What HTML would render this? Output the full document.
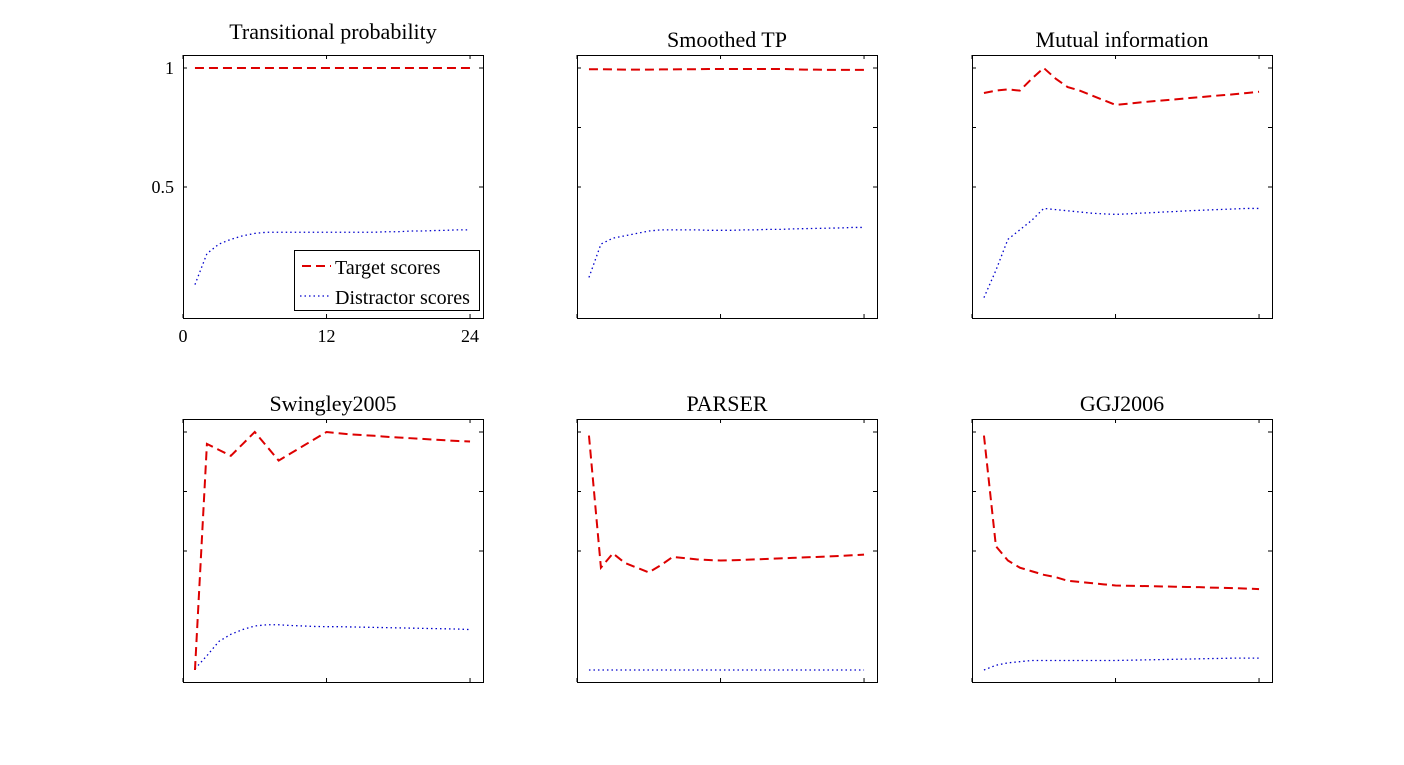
<!DOCTYPE html>
<html><head><meta charset="utf-8"><style>
html,body{margin:0;padding:0;background:#fff;}
svg{display:block;font-family:"Liberation Serif",serif;}
</style></head><body>
<svg id="chart" width="1404" height="765" viewBox="0 0 1404 765"></svg>
<script>
const xs = Array.from({length:24},(_, i)=>i+1);
const titles = ["Transitional probability","Smoothed TP","Mutual information","Swingley2005","PARSER","GGJ2006"];
const tpTarget = [1,1,1,1,1,1,1,1,1,1,1,1,1,1,1,1,1,1,1,1,1,1,1,1];
const tpDistr = [0.09,0.22,0.26,0.28,0.295,0.305,0.31,0.31,0.31,0.31,0.31,0.31,0.31,0.31,0.31,0.31,0.312,0.312,0.315,0.315,0.317,0.318,0.32,0.32];
const stpTarget = [0.995,0.995,0.994,0.993,0.993,0.993,0.994,0.994,0.995,0.995,0.996,0.996,0.996,0.996,0.996,0.996,0.996,0.995,0.993,0.993,0.992,0.992,0.992,0.992];
const stpDistr = [0.12,0.26,0.285,0.295,0.305,0.315,0.32,0.32,0.32,0.32,0.318,0.318,0.318,0.32,0.32,0.322,0.322,0.324,0.325,0.326,0.327,0.328,0.33,0.33];
const miTarget = [0.895,0.905,0.91,0.905,0.955,1.0,0.955,0.92,0.905,0.885,0.865,0.845,0.85,0.855,0.86,0.864,0.868,0.873,0.877,0.882,0.886,0.89,0.895,0.9];
const miDistr = [0.035,0.15,0.28,0.32,0.36,0.41,0.405,0.4,0.395,0.39,0.387,0.385,0.387,0.39,0.392,0.395,0.397,0.4,0.402,0.404,0.406,0.408,0.41,0.41];
const swTarget = [0.0,0.95,0.925,0.9,0.95,1.0,0.94,0.88,0.91,0.94,0.97,1.0,0.995,0.99,0.987,0.984,0.98,0.977,0.974,0.971,0.968,0.965,0.962,0.96];
const swDistr = [0.005,0.06,0.12,0.15,0.17,0.185,0.19,0.19,0.187,0.185,0.183,0.182,0.182,0.181,0.18,0.179,0.178,0.177,0.176,0.175,0.174,0.173,0.172,0.17];
const paTarget = [0.985,0.43,0.49,0.45,0.43,0.41,0.44,0.475,0.47,0.465,0.462,0.46,0.461,0.463,0.465,0.467,0.469,0.471,0.473,0.475,0.477,0.479,0.482,0.485];
const paDistr = [0,0,0,0,0,0,0,0,0,0,0,0,0,0,0,0,0,0,0,0,0,0,0,0];
const ggTarget = [0.985,0.52,0.46,0.43,0.415,0.4,0.39,0.375,0.37,0.365,0.36,0.355,0.354,0.353,0.352,0.351,0.35,0.349,0.348,0.346,0.345,0.344,0.342,0.34];
const ggDistr = [0.0,0.02,0.03,0.035,0.04,0.04,0.04,0.04,0.04,0.04,0.04,0.04,0.041,0.042,0.043,0.044,0.045,0.046,0.047,0.048,0.049,0.05,0.05,0.05];
const xTickLabels = ["0","12","24"];
const yTickLabels = ["0.5","1"];
const targets = [tpTarget,stpTarget,miTarget,swTarget,paTarget,ggTarget];
const distrs = [tpDistr,stpDistr,miDistr,swDistr,paDistr,ggDistr];

const svg = document.getElementById('chart');
const NS = 'http://www.w3.org/2000/svg';
function mk(tag, attrs, parent){const e=document.createElementNS(NS,tag);for(const k in attrs)e.setAttribute(k,attrs[k]);parent.appendChild(e);return e;}
const lefts=[183,577,972], tops=[55,419], W=300, H=263;
titles.forEach((t,i)=>{
  const L=lefts[i%3], T=tops[Math.floor(i/3)];
  const g=mk('g',{},svg);
  
  
  const X=v=>L+v*11.96;
  const Y=v=>T+13+(1-v)*238;
  const box=mk('rect',{x:L+0.5,y:T+0.5,width:W,height:H,fill:'#fff',stroke:'#000','stroke-width':1},g);
  
  
  [0,12,24].forEach(v=>{
    mk('line',{x1:X(v),x2:X(v),y1:T+H,y2:T+H-4,stroke:'#000'},g);
    mk('line',{x1:X(v),x2:X(v),y1:T,y2:T+4,stroke:'#000'},g);
  });
  const yt = i===0?[0.5,1]:[0.5,0.75,1];
  yt.forEach(v=>{
    mk('line',{x1:L,x2:L+4,y1:Y(v),y2:Y(v),stroke:'#000'},g);
    mk('line',{x1:L+W,x2:L+W-4,y1:Y(v),y2:Y(v),stroke:'#000'},g);
  });
  const tt=mk('text',{x:L+W/2,y:i===0?T-16:T-8,'text-anchor':'middle','font-size':22},g);
  tt.textContent=t;
  
  
  if(i===0){
    [0,12,24].forEach((v,k)=>{const e=mk('text',{x:X(v),y:T+H+24,'text-anchor':'middle','font-size':18},g);e.textContent=xTickLabels[k];
      
      });
    [0.5,1].forEach((v,k)=>{const e=mk('text',{x:L-9,y:Y(v)+6,'text-anchor':'end','font-size':18},g);e.textContent=yTickLabels[k];
      
      });
  }
  const pts=a=>a.map((v,k)=>X(xs[k])+','+Y(v)).join(' ');
  const d=mk('polyline',{points:pts(distrs[i]),fill:'none',stroke:'#0000cc','stroke-width':1.3,'stroke-dasharray':'1.5 3'},g);
  
  
  const tl=mk('polyline',{points:pts(targets[i]),fill:'none',stroke:'#dd0000','stroke-width':2,'stroke-dasharray':'9 5'},g);
  
  
  if(i===0){
    const lg=mk('g',{},g);
    
    
    mk('rect',{x:294.5,y:250.5,width:185,height:60,fill:'#fff',stroke:'#000'},lg);
    mk('line',{x1:302,x2:331,y1:266,y2:266,stroke:'#dd0000','stroke-width':2,'stroke-dasharray':'9 5'},lg);
    mk('line',{x1:300,x2:331,y1:296,y2:296,stroke:'#0000cc','stroke-width':1.3,'stroke-dasharray':'1.5 3'},lg);
    const a=mk('text',{x:335,y:274,'font-size':20},lg);a.textContent='Target scores';
    
    
    const b=mk('text',{x:335,y:304,'font-size':20},lg);b.textContent='Distractor scores';
    
    
  }
});
</script>
</body></html>
